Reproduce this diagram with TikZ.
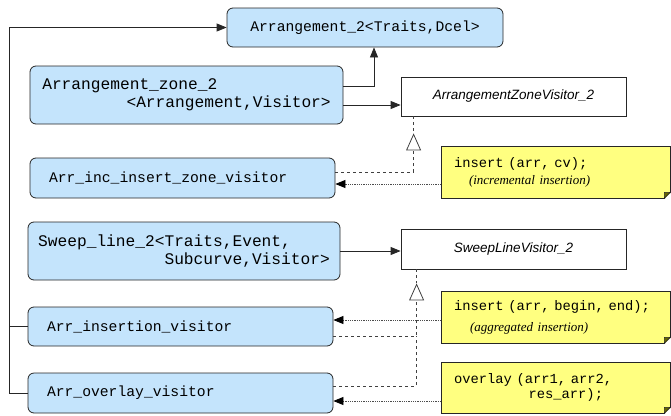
\documentclass[tikz,border=0pt]{standalone}
\usepackage{fontspec}
\setmonofont{Liberation Mono}
\newfontfamily\ifacefont{Liberation Sans}
\newfontfamily\cmtfont{Liberation Serif}
\usepackage{tikz}
\usetikzlibrary{arrows.meta,positioning}

\definecolor{clsblue}{RGB}{196,228,252}
\definecolor{noteyellow}{RGB}{255,255,128}
\definecolor{foldolive}{RGB}{102,102,0}

\newcommand{\notecmt}[1]{{\cmtfont\itshape\fontsize{13}{15}\selectfont #1}}
\newcommand{\dogear}[1]{%
  \fill[white] ([xshift=-6pt,yshift=-1pt]#1.south east) -- ([xshift=1pt,yshift=-1pt]#1.south east) -- ([xshift=1pt,yshift=6pt]#1.south east) -- cycle;
  \filldraw[fill=foldolive, draw=black!85, line width=0.6pt, line join=round] ([xshift=-6pt]#1.south east) -- ([xshift=-6pt,yshift=6pt]#1.south east) -- ([yshift=6pt]#1.south east) -- cycle;}

\begin{document}
\begin{tikzpicture}[
    x=1pt, y=-1pt,
    cls/.style={rectangle, rounded corners=6pt, draw=black!85, line width=0.8pt, fill=clsblue, align=left, inner sep=0pt, font=\ttfamily\fontsize{14.7}{18}\selectfont},
    bigcls/.style={cls, font=\ttfamily\fontsize{16.2}{18.5}\selectfont},
    visitor/.style={cls, inner xsep=19pt, text width=267pt, minimum height=40pt},
    iface/.style={rectangle, draw=black!85, line width=0.8pt, fill=white, minimum width=225pt, minimum height=39pt, font=\ifacefont\itshape\fontsize{13.5}{16}\selectfont},
    note/.style={rectangle, draw=black!85, line width=0.6pt, fill=noteyellow, align=left, inner xsep=13pt, inner ysep=0pt, text width=203pt, minimum height=52pt, font=\ttfamily\fontsize{13.8}{17}\selectfont},
    arrow/.style={-{Triangle[length=10pt, width=8pt]}, line width=0.8pt, draw=black!85},
    realize/.style={-{Triangle[open, length=17pt, width=15pt]}, dashed, line width=0.8pt, draw=black!75},
    gap/.style={dashed, line width=0.8pt, draw=black!75},
    usage/.style={-{Triangle[length=10pt, width=8pt, fill=black, color=black]}, densely dotted, line width=0.8pt, draw=black!70}
]
\useasboundingbox (0,0) rectangle (671,415);

\node[cls, minimum width=276pt, minimum height=39pt] (arr2) at (365,27.5) {Arrangement\_2<Traits,Dcel>};
\node[bigcls, minimum width=313pt, minimum height=58pt] (zone) at (186.5,95) {Arrangement\_zone\_2\\\hspace*{5.2em}<Arrangement,Visitor>};
\node[iface] (azv) at (513.5,96.5) {ArrangementZoneVisitor\_2};
\node[visitor] (inc) at (182.5,178) {Arr\_inc\_insert\_zone\_visitor};
\node[note] (ncv) at (555.5,172) {insert (arr, cv);\\\notecmt{\hspace*{15pt}(incremental insertion)}};

\node[bigcls, minimum width=312pt, minimum height=58pt] (sweep) at (184,251) {Sweep\_line\_2<Traits,Event,\\\hspace*{7.8em}Subcurve,Visitor>};
\node[iface, minimum height=40pt] (slv) at (513.5,249) {SweepLineVisitor\_2};
\node[visitor, minimum height=39pt] (ins) at (180.5,326.5) {Arr\_insertion\_visitor};
\node[note] (nbe) at (555.5,317) {insert~(arr,~begin,~end);\\[4pt]\notecmt{\hspace*{16pt}(aggregated insertion)}};
\node[visitor] (ovl) at (180.5,393) {Arr\_overlay\_visitor};
\node[note, minimum height=51pt] (nov) at (555.5,387.5) {overlay (arr1, arr2,\\[-2pt]\hspace*{5.4em}res\_arr);};

\dogear{ncv}
\dogear{nbe}
\dogear{nov}

% left bus up to the arrangement
\coordinate (bar) at (9,0);
\draw[arrow] (ovl.west) -- (ovl.west -| bar) |- (arr2.west);
\draw[line width=0.8pt, draw=black!85] (ins.west) -- (ins.west -| bar);

% zone
\draw[arrow] ([yshift=-21pt]zone.north east) -| ([xshift=9pt]arr2.south);
\coordinate (zoneout) at ([yshift=-10pt]zone.east);
\draw[arrow] (zoneout) -- (zoneout -| azv.west);
\coordinate (azvfoot) at ([xshift=13pt]azv.south west);
\coordinate (incout) at ([yshift=6pt]inc.east);
\draw[realize] (incout) -| ([yshift=-17pt]azvfoot);
\draw[gap] (azvfoot) -- ([yshift=-17pt]azvfoot);
\coordinate (ncvin) at ([yshift=-12pt]ncv.west);
\draw[usage] (ncvin) -- (ncvin -| inc.east);

% sweep line
\draw[arrow] (sweep.east) -- (sweep.east -| slv.west);
\coordinate (slvfoot) at ([xshift=16pt]slv.south west);
\coordinate (insout) at ([yshift=-9.5pt]ins.east);
\coordinate (ovlout) at ([yshift=7pt]ovl.east);
\draw[realize] (insout) -| ([yshift=-14pt]slvfoot);
\draw[gap] (ovlout) -| (insout -| slvfoot);
\draw[gap] (slvfoot) -- ([yshift=-14pt]slvfoot);
\coordinate (nbein) at ([yshift=-3pt]nbe.west);
\draw[usage] (nbein) -- (nbein -| ins.east);
\coordinate (novin) at ([yshift=-13.5pt]nov.west);
\draw[usage] (novin) -- (novin -| ovl.east);
\end{tikzpicture}
\end{document}
